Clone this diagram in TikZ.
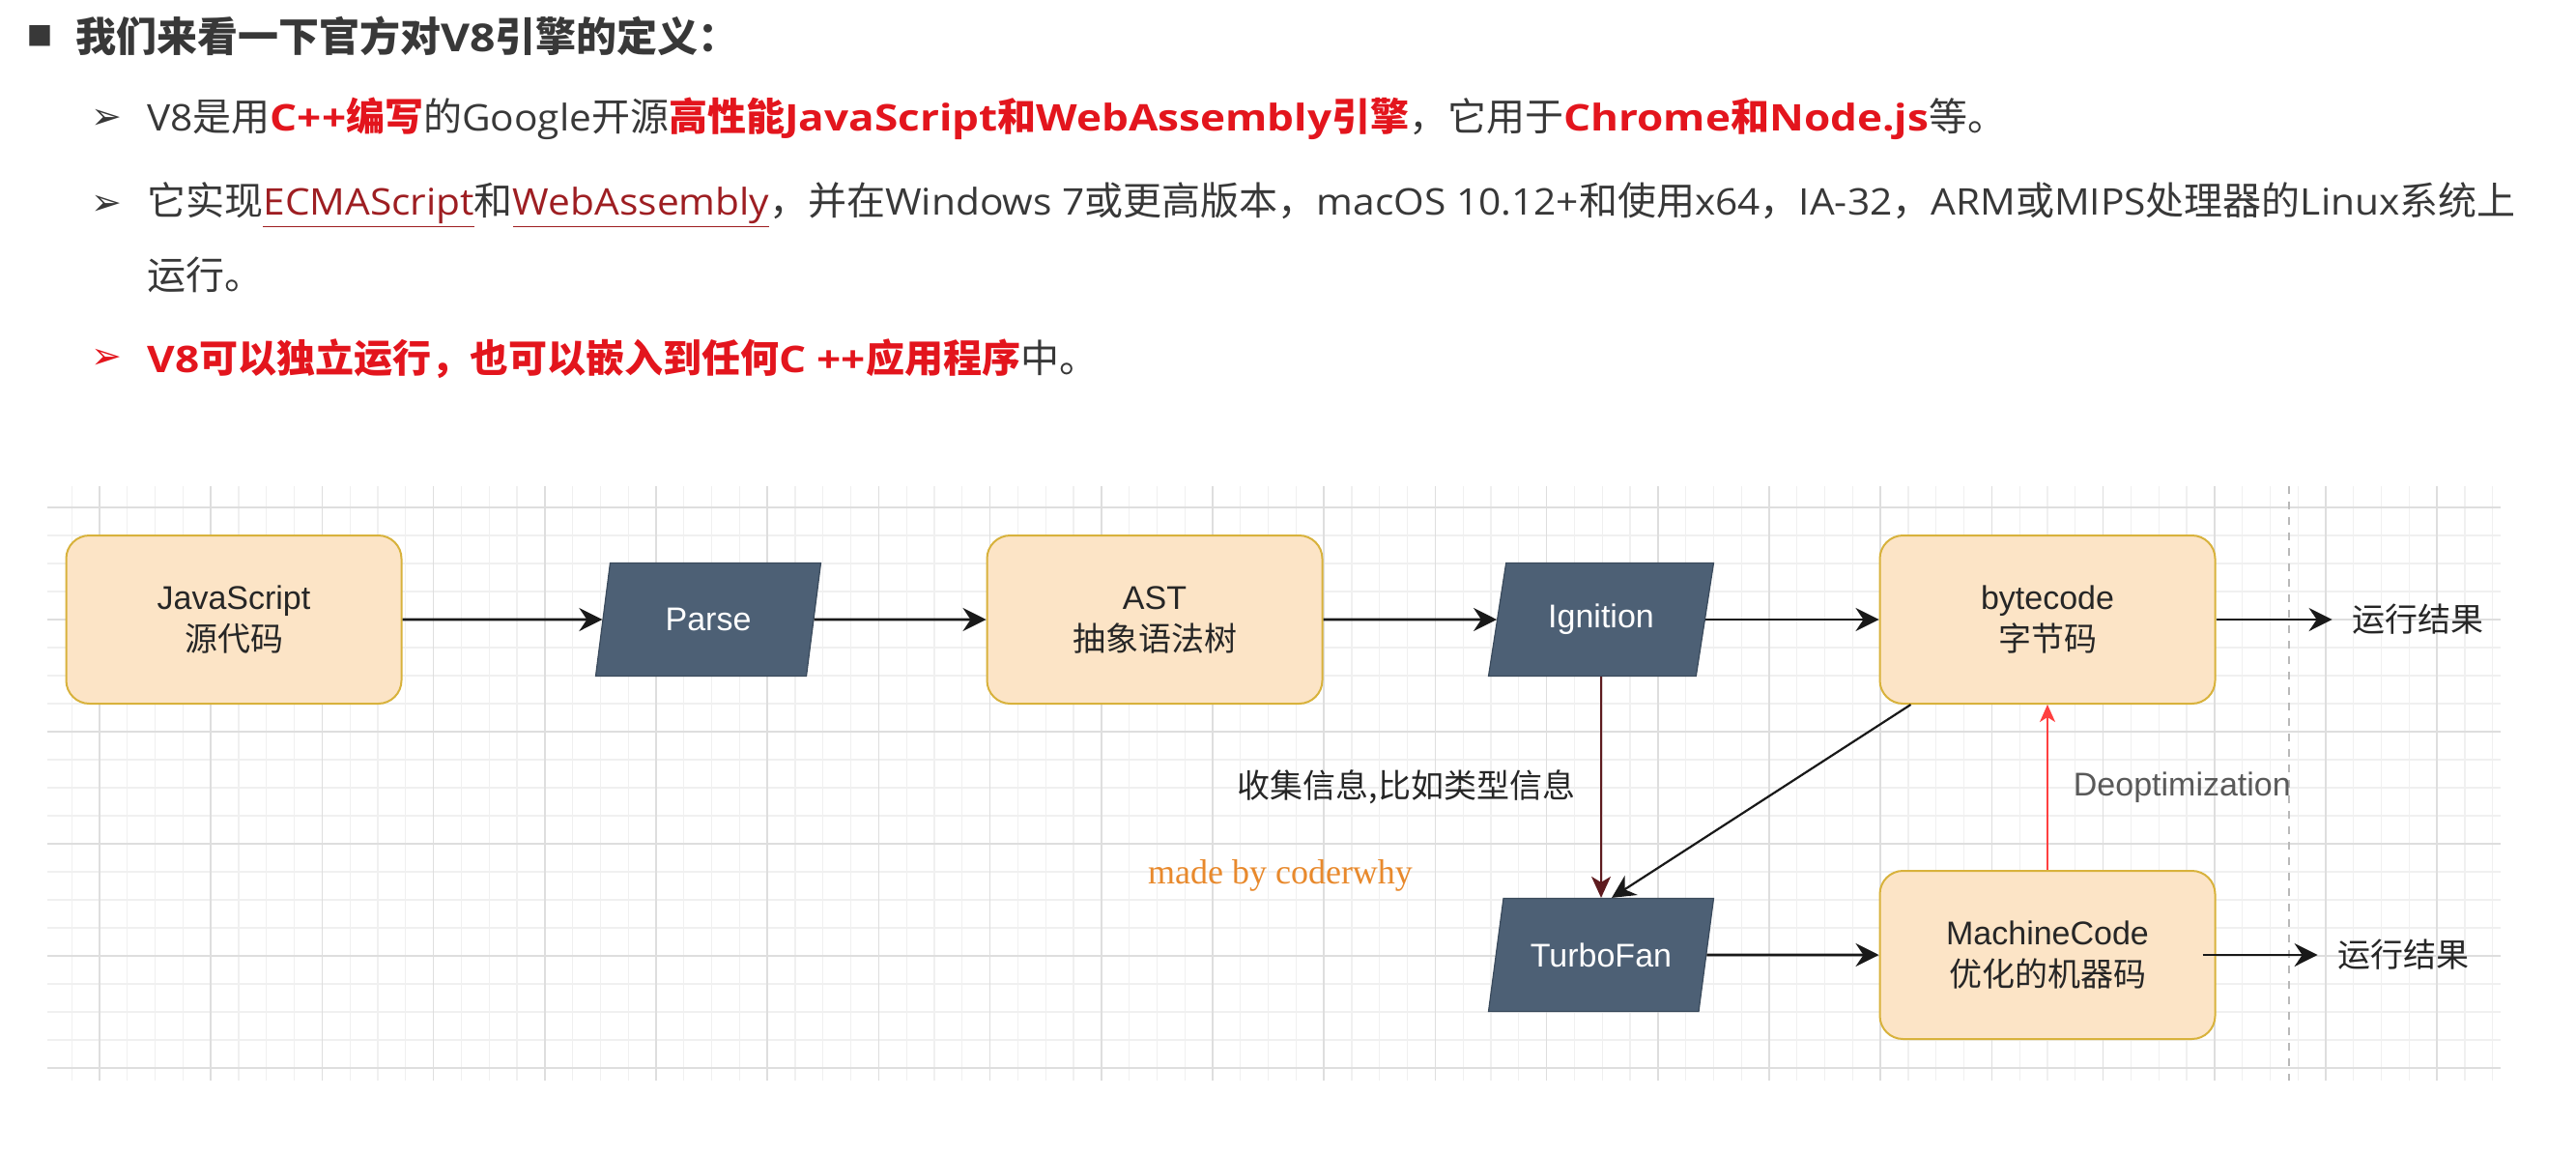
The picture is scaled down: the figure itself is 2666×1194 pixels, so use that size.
\documentclass[tikz,border=0pt]{standalone}
\usepackage{fontspec}
\usepackage{xcolor}
\usepackage{tikz}
\usetikzlibrary{shapes.geometric,arrows.meta}
\newfontfamily\cjk{Noto Sans CJK SC}
\newfontfamily\lat[Scale=0.95,FakeStretch=1.07]{Open Sans}
\newfontfamily\latb[Scale=0.95,FakeStretch=1.16]{Open Sans}
\newfontfamily\hel{Liberation Sans}
\newfontfamily\dv{DejaVu Sans}
\newfontfamily\tms{Liberation Serif}
\definecolor{txtgray}{HTML}{383838}
\definecolor{hired}{HTML}{E3151D}
\definecolor{ulred}{HTML}{9E1E22}
\definecolor{boxfill}{HTML}{FCE4C6}
\definecolor{boxline}{HTML}{D8B23C}
\definecolor{parafill}{HTML}{4D6075}
\definecolor{paraline}{HTML}{3A4A5C}
\definecolor{gridmajor}{HTML}{DEDEDE}
\definecolor{gridminor}{HTML}{F0F0F0}
\definecolor{brownline}{HTML}{5E1B1F}
\definecolor{deoptred}{HTML}{FF4040}
\definecolor{wmorange}{HTML}{E8892C}
\newcommand\la[1]{{\lat #1}}
\newcommand\lb[1]{{\latb #1}}
\newcommand\zh[1]{{\cjk #1}}
\newcommand\hl[1]{{\color{hired}\bfseries #1}}
\newcommand\ulred[1]{{\color{ulred}\underline{#1}}}
\tikzset{
  box/.style={draw=boxline, fill=boxfill, line width=1pt, rounded corners=12pt,
    minimum width=173.5pt, minimum height=87pt, align=center,
    font=\hel\fontsize{17}{21.5}\selectfont, text=black!85},
  para/.style={trapezium, trapezium left angle=68, trapezium right angle=112,
    trapezium stretches body, draw=paraline, fill=parafill, line width=0.6pt,
    minimum width=116.5pt, minimum height=58.5pt, text=white,
    font=\hel\fontsize{17}{21}\selectfont},
  flow/.style={-{Stealth[length=12pt,width=12pt,inset=4pt]}, line width=1.3pt, black!90},
  brownflow/.style={-{Stealth[length=11pt,width=10pt,inset=3pt]}, line width=1pt, brownline},
  deopt/.style={-{Stealth[length=9pt,width=8pt,inset=2.5pt]}, line width=0.9pt, deoptred},
  res/.style={font=\cjk\fontsize{17}{20}\selectfont, text=black!85, inner sep=10pt},
  lbl/.style={font=\fontsize{17}{20}\selectfont, text=black!85, inner sep=3pt},
  minorline/.style={gridminor, line width=0.6pt},
  majorline/.style={gridmajor, line width=0.8pt},
  txtline/.style={anchor=west, inner sep=0, font=\cjk\fontsize{20}{24}\selectfont, text=txtgray},
  bullet/.style={inner sep=0, font=\dv\fontsize{19}{19}\selectfont, text=txtgray}
}
\begin{document}
\begin{tikzpicture}[x=0.5pt, y=-0.5pt, node distance=231pt]
  \fill[white] (0,0) rectangle (2666,1194);
  \useasboundingbox (0,0) rectangle (2666,1194);
  % text above the diagram
  \node[bullet, font=\dv\fontsize{14}{14}\selectfont] (sq) at (41,37) {■};
  \node[txtline, font=\cjk\bfseries\fontsize{21}{24}\selectfont] (title) at (78,37)
    {我们来看一下官方对\lb{V8}引擎的定义：};
  \node[bullet] (b1) at (110,123) {➢};
  \node[txtline] (l1) at (152,123) {\la{V8}是用\hl{\lb{C++}编写}的\la{Google}开源\hl{高性能\lb{JavaScript}和\lb{WebAssembly}引擎}，它用于\hl{\lb{Chrome}和\lb{Node.js}}等。};
  \node[bullet] (b2) at (110,212) {➢};
  \node[txtline] (l2) at (152,212) {它实现\ulred{\la{ECMAScript}}和\ulred{\la{WebAssembly}}，并在\la{Windows 7}或更高版本，\la{macOS 10.12+}和使用\la{x64}，\la{IA-32}，\la{ARM}或\la{MIPS}处理器的\la{Linux}系统上};
  \node[txtline] (l2b) at (152,284) {运行。};
  \node[bullet, text=hired] (b3) at (110,371) {➢};
  \node[txtline] (l3) at (152,371) {\hl{\lb{V8}可以独立运行，也可以嵌入到任何\lb{C ++}应用程序}中。};
  % grid
  \foreach \i in {0,...,87}
    \draw[minorline] ({74.2+28.8*\i},503) -- ({74.2+28.8*\i},1118);
  \foreach \j in {0,...,20}
    \draw[minorline] (49,{525+29*\j}) -- (2588,{525+29*\j});
  \foreach \i in {0,...,21}
    \draw[majorline] ({103+115.2*\i},503) -- ({103+115.2*\i},1118);
  \foreach \j in {0,...,5}
    \draw[majorline] (49,{525+116*\j}) -- (2588,{525+116*\j});
  \draw[gray!55, line width=0.9pt, dash pattern=on 4pt off 4pt] (2369,503) -- (2369,1118);
  % nodes
  \node[box] (js) at (242,641) {JavaScript\\\zh{源代码}};
  \node[para] (parse) [right of=js, node distance=245.5pt] {Parse};
  \node[box] (ast) [right of=parse] {AST\\\zh{抽象语法树}};
  \node[para] (ignition) [right of=ast] {Ignition};
  \node[box] (bytecode) [right of=ignition] {bytecode\\\zh{字节码}};
  \node[box] (machine) [below of=bytecode, node distance=173.5pt] {MachineCode\\\zh{优化的机器码}};
  \node[para] (turbofan) [below of=ignition, node distance=173.5pt] {TurboFan};
  \node[res] (res1) [right of=bytecode, node distance=191.5pt] {运行结果};
  \node[res] (res2) [right of=machine, node distance=184pt] {运行结果};
  \node[font=\tms\fontsize{18}{20}\selectfont, text=wmorange] (mark) at (1325,906) {made by coderwhy};
  % arrows
  \draw[flow] (js) -- (parse);
  \draw[flow] (parse) -- (ast);
  \draw[flow] (ast) -- (ignition);
  \draw[flow] (ignition) -- (bytecode);
  \draw[flow] (bytecode) -- (res1);
  \draw[flow] (turbofan) -- (machine);
  \draw[flow] ([xshift=-7pt]machine.east) -- (res2);
  \draw[flow, line width=1.1pt] ([xshift=16.5pt]bytecode.south west) -- ([xshift=5.5pt]turbofan.north);
  \draw[brownflow] (ignition) -- node[lbl, anchor=east, xshift=-10pt, font=\cjk\fontsize{17}{20}\selectfont] {收集信息,比如类型信息} (turbofan);
  \draw[deopt] (machine) -- node[lbl, anchor=west, xshift=10pt, font=\hel\fontsize{17}{20}\selectfont, text=black!65] {Deoptimization} (bytecode);
\end{tikzpicture}
\end{document}
